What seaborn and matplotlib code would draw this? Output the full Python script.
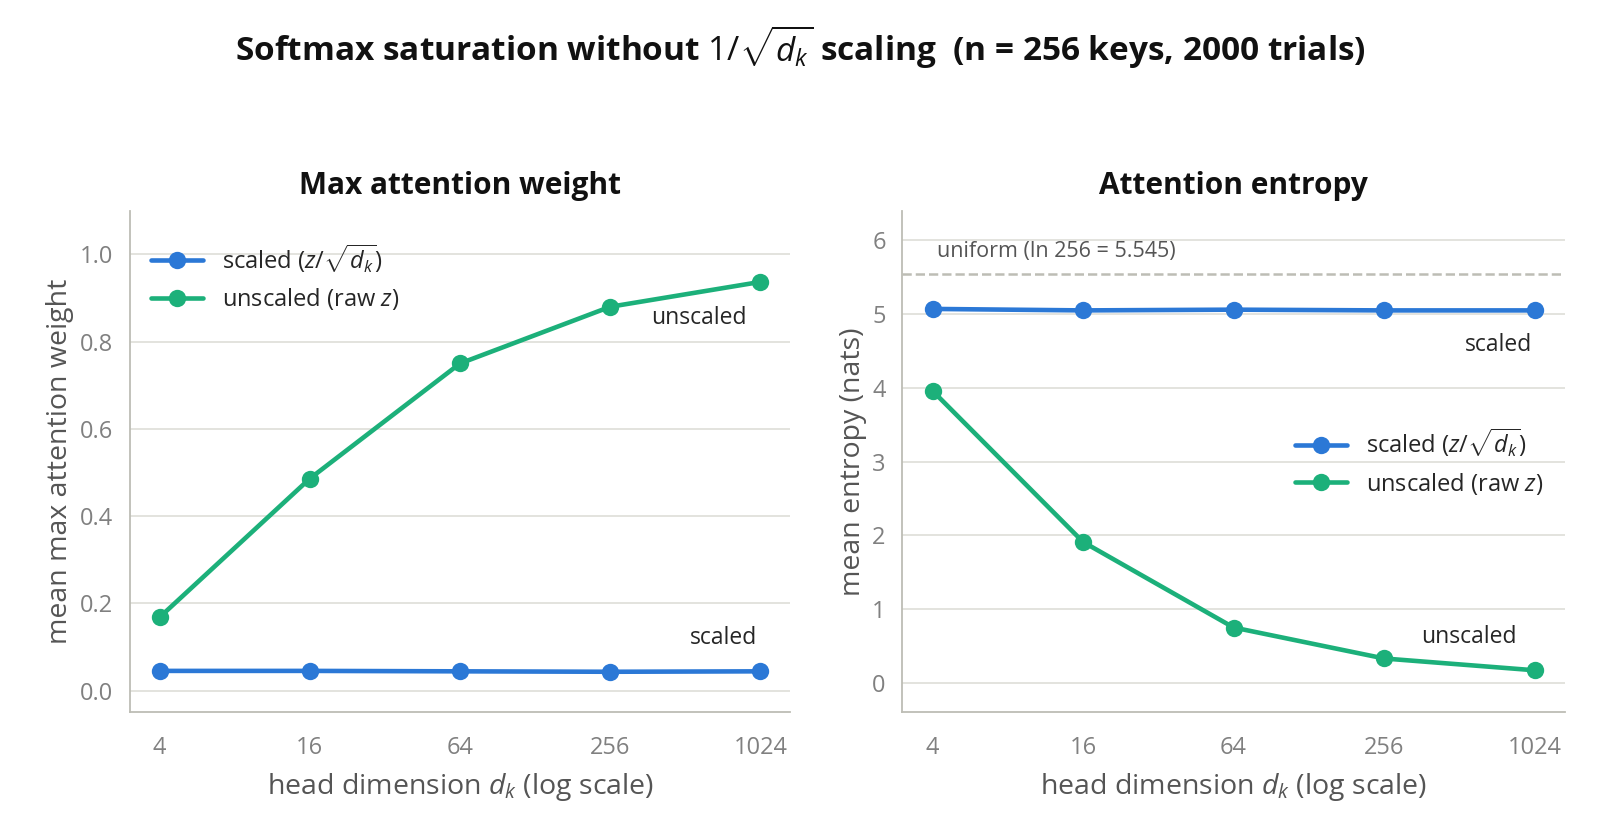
import numpy as np
import pandas as pd
import matplotlib
matplotlib.use("Agg")
import matplotlib.pyplot as plt
import seaborn as sns

# values
d_k = [4, 16, 64, 256, 1024]
max_w_scaled = [0.045, 0.045, 0.044, 0.043, 0.044]
max_w_unscaled = [0.168, 0.486, 0.750, 0.880, 0.937]
entropy_scaled = [5.07, 5.05, 5.06, 5.05, 5.05]
entropy_unscaled = [3.96, 1.91, 0.75, 0.33, 0.17]
uniform_entropy = np.log(256)

series_names = [r"scaled ($z/\sqrt{d_k}$)", r"unscaled (raw $z$)"]
colors = {series_names[0]: "#2b78d6", series_names[1]: "#1cb07a"}

df = pd.DataFrame({
    "d_k": d_k * 2,
    "series": [series_names[0]] * 5 + [series_names[1]] * 5,
    "max_w": max_w_scaled + max_w_unscaled,
    "entropy": entropy_scaled + entropy_unscaled,
})

sns.set_theme(style="white")
plt.rcParams["font.family"] = ["Open Sans", "DejaVu Sans"]
plt.rcParams["mathtext.fontset"] = "custom"
plt.rcParams["mathtext.rm"] = "Open Sans"
plt.rcParams["mathtext.it"] = "Open Sans:italic"
plt.rcParams["mathtext.bf"] = "Open Sans:bold"

grey = "#bdbdb5"
fig = plt.figure(figsize=(16, 8.4), dpi=100)
ax1 = fig.add_axes([0.081, 0.152, 0.413, 0.597])
ax2 = fig.add_axes([0.564, 0.152, 0.414, 0.597])

for ax, col in [(ax1, "max_w"), (ax2, "entropy")]:
    sns.lineplot(data=df, x="d_k", y=col, hue="series", palette=colors,
                 marker="o", markersize=12.5, markeredgewidth=0, linewidth=3.3,
                 ax=ax)
    ax.set_xscale("log", base=2)
    ax.set_xticks(d_k)
    ax.set_xticklabels([str(v) for v in d_k])
    ax.minorticks_off()
    ax.grid(axis="y", color="#deded8", linewidth=1.2)
    ax.set_axisbelow(True)
    for s in ["top", "right"]:
        ax.spines[s].set_visible(False)
    for s in ["left", "bottom"]:
        ax.spines[s].set_color(grey)
        ax.spines[s].set_linewidth(1.3)
    ax.tick_params(axis="both", colors="#777777", labelsize=17, length=6,
                   width=1.3, labelcolor="#808080", pad=6)
    ax.tick_params(axis="x", pad=11)
    ax.set_xlabel(r"head dimension $d_k$ (log scale)", fontsize=20.5, color="#555555",
                  labelpad=8)

# left panel
ax1.set_ylim(-0.05, 1.1)
ax1.set_yticks([0.0, 0.2, 0.4, 0.6, 0.8, 1.0])
ax1.set_ylabel("mean max attention weight", fontsize=20.5, color="#555555")
ax1.set_title("Max attention weight", fontsize=21.5, fontweight="bold", pad=12,
              color="#111111")
ax1.legend(loc="upper left", frameon=False, fontsize=17, handlelength=2.2,
           bbox_to_anchor=(0.0, 0.98))
ax1.text(900, 0.855, "unscaled", ha="right", va="center", fontsize=16.5)
ax1.text(1024 * 0.97, 0.12, "scaled", ha="right", va="center", fontsize=16.5)

# right panel
ax2.axhline(uniform_entropy, color=grey, linestyle="--", linewidth=1.8)
ax2.text(4.15, uniform_entropy + 0.3, "uniform (ln 256 = 5.545)", fontsize=15.5,
         color="#555555", va="center")
ax2.set_ylim(-0.4, 6.4)
ax2.set_yticks([0, 1, 2, 3, 4, 5, 6])
ax2.set_ylabel("mean entropy (nats)", fontsize=20.5, color="#555555")
ax2.set_title("Attention entropy", fontsize=21.5, fontweight="bold", pad=12,
              color="#111111")
ax2.legend(loc="center right", frameon=False, fontsize=17, handlelength=2.2,
           bbox_to_anchor=(1.0, 0.5))
ax2.text(1000, 4.58, "scaled", ha="right", va="center", fontsize=16.5)
ax2.text(1024 * 0.85, 0.62, "unscaled", ha="right", va="center", fontsize=16.5)

fig.suptitle(r"Softmax saturation without $1/\sqrt{d_k}$ scaling  (n = 256 keys, 2000 trials)",
             fontsize=24, fontweight="bold", y=0.972, color="#111111")

fig.savefig("out.png", dpi=100)
plt.close(fig)
